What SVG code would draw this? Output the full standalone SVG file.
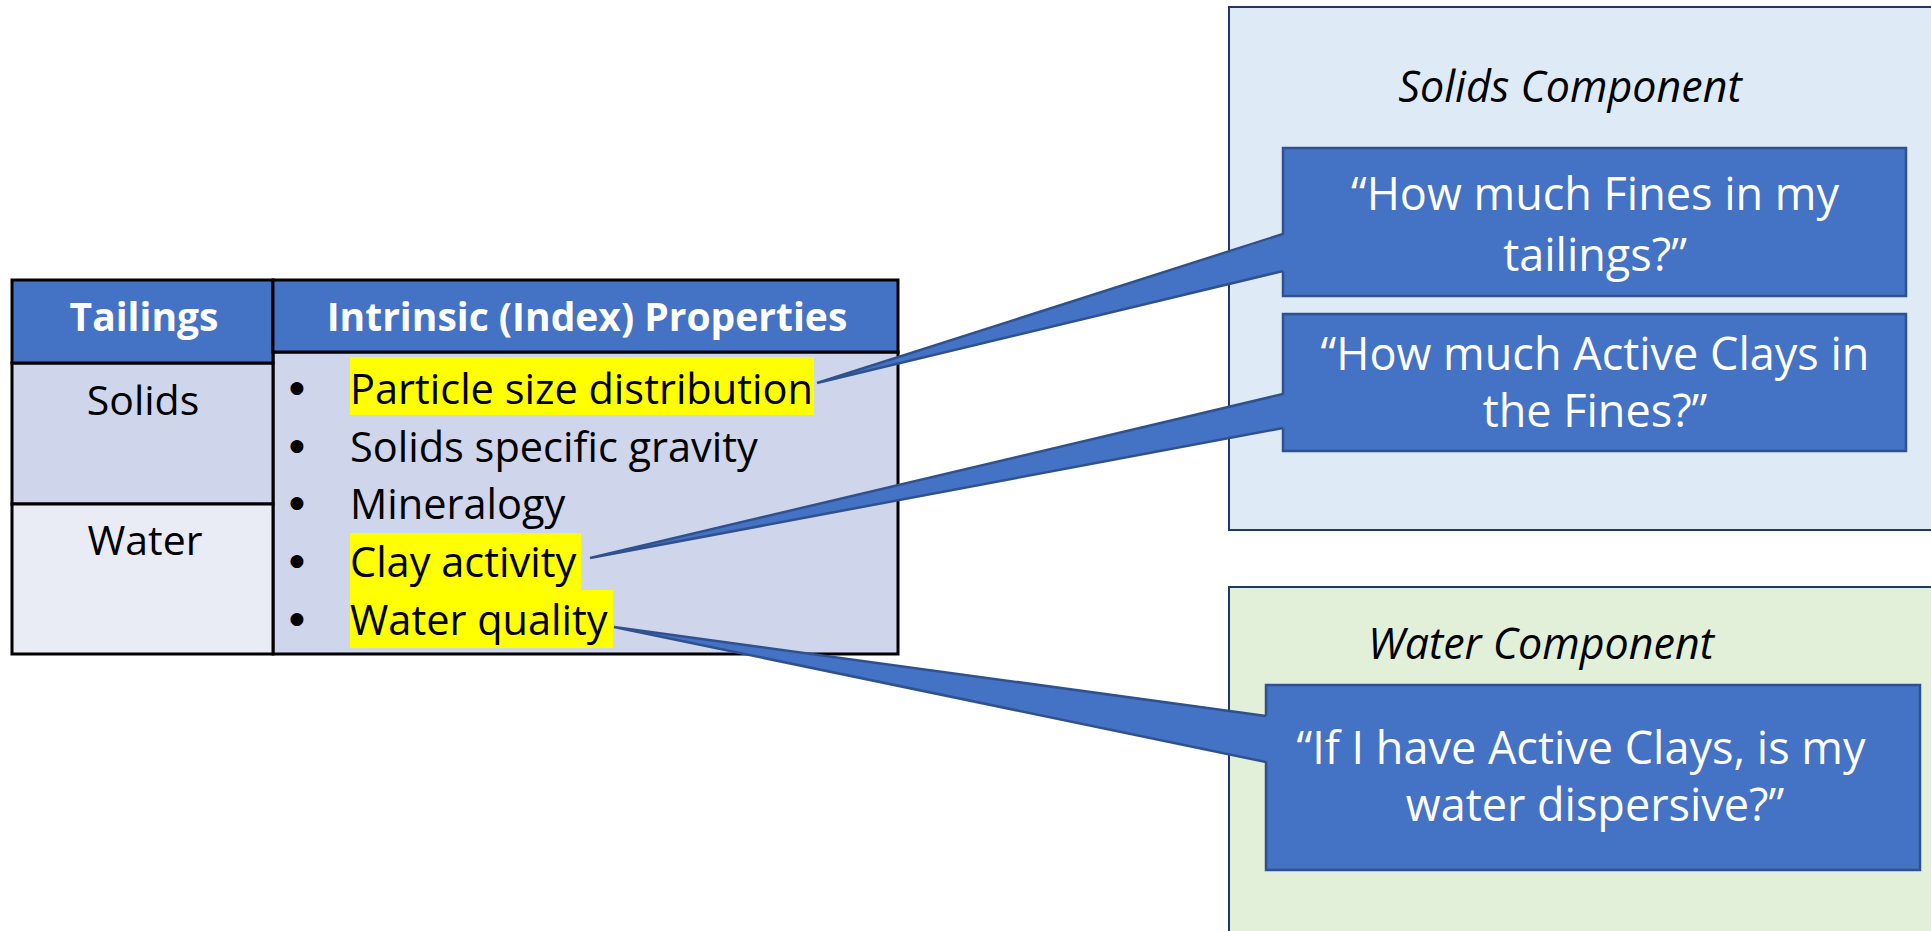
<svg xmlns="http://www.w3.org/2000/svg" width="1931" height="931" viewBox="0 0 1931 931">
<style>
  text { font-family: "Open Sans", "Liberation Sans", sans-serif; }
  .hdr { fill: #4472C4; stroke: #000; stroke-width: 3; }
  .hdrtxt { fill: #fff; font-weight: bold; font-size: 39px; text-anchor: middle; }
  .cell { stroke: #000; stroke-width: 3; }
  .celltxt { fill: #000; font-size: 41px; text-anchor: middle; }
  .bul { fill: #000; font-size: 41.5px; }
  .bul text.dot { font-family: "DejaVu Sans", sans-serif; font-size: 17px; text-anchor: middle; }
  .hl { fill: #FFFF00; }
  .outer { stroke: #203864; stroke-width: 2; }
  .title { fill: #000; font-style: italic; font-size: 43px; text-anchor: middle; }
  .callout { fill: #4472C4; stroke: #2F528F; stroke-width: 2.5; }
  .ctxt { fill: #fff; font-size: 45px; text-anchor: middle; }
  .wedge { fill: #4472C4; stroke: none; }
  .wedgeline { fill: none; stroke: #2F528F; stroke-width: 2.5; stroke-linejoin: miter; }
</style>

<g id="table">
  <rect class="cell" x="273" y="352" width="625" height="302" fill="#CFD5EA"/>
  <rect class="cell" x="12" y="363" width="261" height="141" fill="#CFD5EA"/>
  <rect class="cell" x="12" y="504" width="261" height="150" fill="#E9EBF5"/>
  <rect class="hdr" x="12" y="280" width="261" height="83"/>
  <rect class="hdr" x="273" y="280" width="625" height="72"/>
  <text class="hdrtxt" x="144" y="331">Tailings</text>
  <text class="hdrtxt" x="587" y="331">Intrinsic (Index) Properties</text>
  <text class="celltxt" x="143" y="415">Solids</text>
  <text class="celltxt" x="145" y="555">Water</text>
  <rect class="hl" x="350" y="357" width="464" height="58"/>
  <rect class="hl" x="350" y="533" width="231" height="57"/>
  <rect class="hl" x="350" y="590" width="263" height="58"/>
  <g class="bul">
    <text class="dot" x="297" y="393">●</text>
    <text x="350" y="404">Particle size distribution</text>
    <text class="dot" x="297" y="451">●</text>
    <text x="350" y="462">Solids specific gravity</text>
    <text class="dot" x="297" y="508">●</text>
    <text x="350" y="519">Mineralogy</text>
    <text class="dot" x="297" y="566">●</text>
    <text x="350" y="577">Clay activity</text>
    <text class="dot" x="297" y="624">●</text>
    <text x="350" y="635">Water quality</text>
  </g>
</g>

<g id="solids-component">
  <rect class="outer" x="1229" y="7" width="720" height="523" fill="#DEEBF7"/>
  <text class="title" x="1570" y="102">Solids Component</text>
</g>

<g id="water-component">
  <rect class="outer" x="1229" y="587" width="720" height="360" fill="#E2F0D9"/>
  <text class="title" x="1541" y="659">Water Component</text>
</g>

<g id="q-fines">
  <rect class="callout" x="1283" y="148" width="623" height="148"/>
  <text class="ctxt" x="1595" y="210">“How much Fines in my</text>
  <text class="ctxt" x="1595" y="271">tailings?”</text>
</g>

<g id="q-clays">
  <rect class="callout" x="1283" y="314" width="623" height="137"/>
  <text class="ctxt" x="1595" y="370">“How much Active Clays in</text>
  <text class="ctxt" x="1595" y="427">the Fines?”</text>
</g>

<g id="q-water">
  <rect class="callout" x="1266" y="685" width="654" height="185"/>
  <text class="ctxt" x="1581" y="764">“If I have Active Clays, is my</text>
  <text class="ctxt" x="1595" y="821">water dispersive?”</text>
</g>

<g id="connectors">
  <polygon class="wedge" points="1286,234 817,383 1286,271"/>
  <polyline class="wedgeline" points="1283,234 817,383 1283,271"/>
  <polygon class="wedge" points="1286,394 590,558 1286,428"/>
  <polyline class="wedgeline" points="1283,394 590,558 1283,428"/>
  <polygon class="wedge" points="1269,716 614,627 1269,762"/>
  <polyline class="wedgeline" points="1266,716 614,627 1266,762"/>
</g>
</svg>
